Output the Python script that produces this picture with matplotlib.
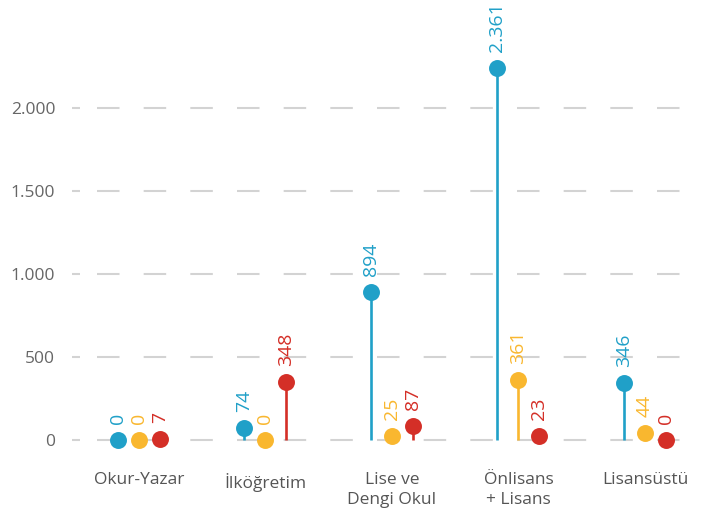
import matplotlib
matplotlib.use("Agg")
import matplotlib.pyplot as plt
import numpy as np

plt.rcParams['font.family'] = ['Open Sans', 'DejaVu Sans']

categories = ["Okur-Yazar", "İlköğretim", "Lise ve\nDengi Okul", "Önlisans\n+ Lisans", "Lisansüstü"]
blue_vals = [0, 74, 894, 2361, 346]
yellow_vals = [0, 0, 25, 361, 44]
red_vals = [7, 348, 87, 23, 0]

colors = ["#20a0c8", "#f9b72f", "#d42f27"]
# tallest value is clipped at the top of the plot so its label still fits
cap = 2240

fig = plt.figure(figsize=(7.02, 5.16), dpi=100)
ax = fig.add_axes([80 / 702, 56 / 516, 622 / 702, 460 / 516])

x = np.arange(len(categories))
off = 0.166

# grid lines
for yv in [0, 500, 1000, 1500, 2000]:
    ax.hlines(yv, -0.332, 4.6, color="#d3d3d3", lw=1.5,
              linestyle=(0, (10.8, 11.6)), zorder=0)

for k, vals in enumerate([blue_vals, yellow_vals, red_vals]):
    xs = x + (k - 1) * off
    ys = np.minimum(np.array(vals), cap)
    ax.vlines(xs, 0, ys, color=colors[k], lw=1.9, zorder=2)
    ax.plot(xs, ys, "o", color=colors[k], ms=12.2, mec="none", zorder=3)
    for xi, yi, v in zip(xs, ys, vals):
        ax.annotate(f"{v:,}".replace(",", "."), (xi, yi), xytext=(0, 11.5),
                    textcoords="offset points", rotation=90, ha="center",
                    va="bottom", color=colors[k], fontsize=14)

ax.set_xlim(-0.466, 4.451)
ax.set_ylim(-120.5, 2650.6)

ax.set_yticks([0, 500, 1000, 1500, 2000])
ax.set_yticklabels(["0", "500", "1.000", "1.500", "2.000"])
ax.set_xticks(x)
ax.set_xticklabels(categories, linespacing=1.3)
ax.tick_params(axis="y", length=5.8, width=1.5, color="#d3d3d3", pad=12,
               labelsize=12.5, labelcolor="#666666")
ax.tick_params(axis="x", length=0, pad=9, labelsize=12.5, labelcolor="#555555")
for s in ax.spines.values():
    s.set_visible(False)

fig.savefig("out.png", dpi=100)
